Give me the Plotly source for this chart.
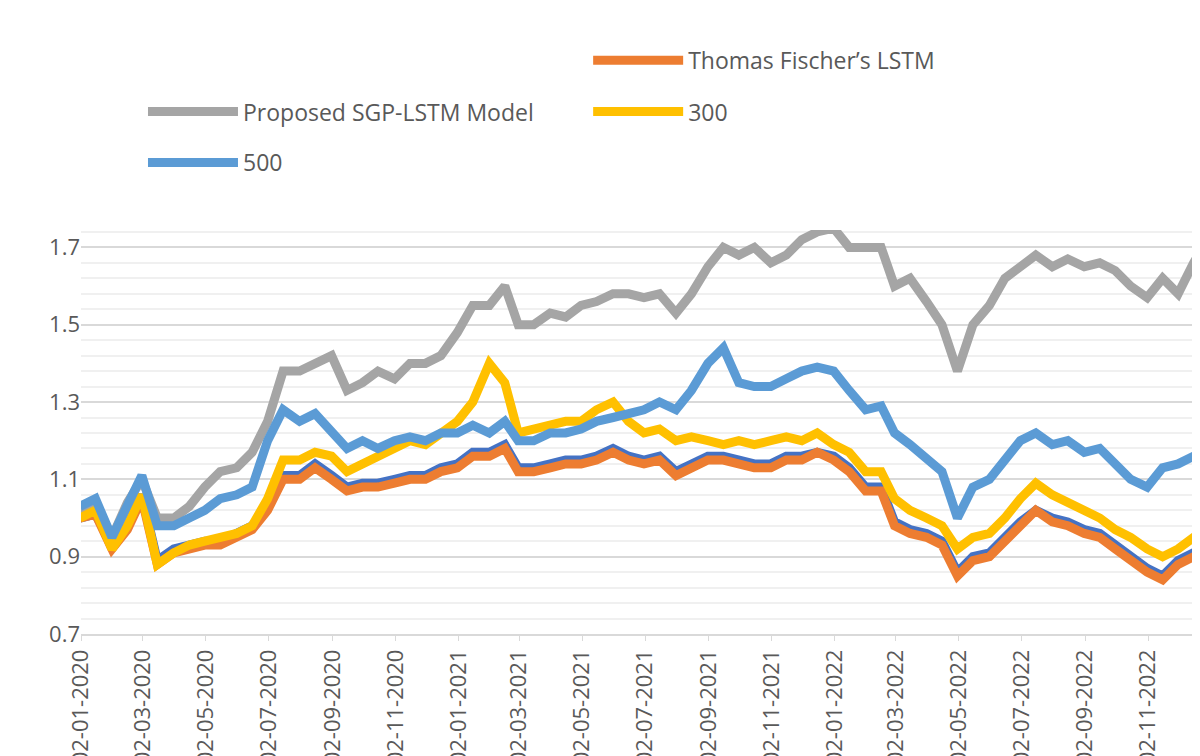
import plotly.graph_objects as go
import pandas as pd

dates = [d.strftime("%Y-%m-%d") for m in pd.date_range("2020-01-01", "2022-12-01", freq="MS") for d in (m, m + pd.Timedelta(days=15))] + ["2022-12-30"]

ghosh = [1.00,1.01,0.93,0.98,1.06,0.89,0.92,0.93,0.94,0.94,0.96,0.98,1.03,1.11,1.11,1.14,1.11,1.08,1.09,1.09,1.10,1.11,1.11,1.13,
         1.14,1.17,1.17,1.19,1.13,1.13,1.14,1.15,1.15,1.16,1.18,1.16,1.15,1.16,1.12,1.14,1.16,1.16,1.15,1.14,1.14,1.16,1.16,1.17,
         1.16,1.13,1.08,1.08,0.99,0.97,0.96,0.94,0.86,0.90,0.91,0.95,0.99,1.02,1.00,0.99,0.97,0.96,0.93,0.90,0.87,0.85,0.89,0.91,0.90,0.88]
fischer = [1.00,1.01,0.92,0.97,1.05,0.88,0.91,0.92,0.93,0.93,0.95,0.97,1.02,1.10,1.10,1.13,1.10,1.07,1.08,1.08,1.09,1.10,1.10,1.12,
           1.13,1.16,1.16,1.18,1.12,1.12,1.13,1.14,1.14,1.15,1.17,1.15,1.14,1.15,1.11,1.13,1.15,1.15,1.14,1.13,1.13,1.15,1.15,1.17,
           1.15,1.12,1.07,1.07,0.98,0.96,0.95,0.93,0.85,0.89,0.90,0.94,0.98,1.02,0.99,0.98,0.96,0.95,0.92,0.89,0.86,0.84,0.88,0.90,0.89,0.87]
sgp = [1.02,1.04,0.95,1.04,1.10,1.00,1.00,1.03,1.08,1.12,1.13,1.17,1.25,1.38,1.38,1.40,1.42,1.33,1.35,1.38,1.36,1.40,1.40,1.42,
       1.48,1.55,1.55,1.60,1.50,1.50,1.53,1.52,1.55,1.56,1.58,1.58,1.57,1.58,1.53,1.58,1.65,1.70,1.68,1.70,1.66,1.68,1.72,1.74,
       1.75,1.70,1.70,1.70,1.60,1.62,1.56,1.50,1.38,1.50,1.55,1.62,1.65,1.68,1.65,1.67,1.65,1.66,1.64,1.60,1.57,1.62,1.58,1.66,1.72,1.67]
s300 = [1.00,1.02,0.92,0.98,1.06,0.88,0.91,0.93,0.94,0.95,0.96,0.98,1.05,1.15,1.15,1.17,1.16,1.12,1.14,1.16,1.18,1.20,1.19,1.22,
        1.25,1.30,1.40,1.35,1.22,1.23,1.24,1.25,1.25,1.28,1.30,1.25,1.22,1.23,1.20,1.21,1.20,1.19,1.20,1.19,1.20,1.21,1.20,1.22,
        1.19,1.17,1.12,1.12,1.05,1.02,1.00,0.98,0.92,0.95,0.96,1.00,1.05,1.09,1.06,1.04,1.02,1.00,0.97,0.95,0.92,0.90,0.92,0.95,0.96,0.94]
s500 = [1.03,1.05,0.95,1.04,1.11,0.98,0.98,1.00,1.02,1.05,1.06,1.08,1.20,1.28,1.25,1.27,1.22,1.18,1.20,1.18,1.20,1.21,1.20,1.22,
        1.22,1.24,1.22,1.25,1.20,1.20,1.22,1.22,1.23,1.25,1.26,1.27,1.28,1.30,1.28,1.33,1.40,1.44,1.35,1.34,1.34,1.36,1.38,1.39,
        1.38,1.33,1.28,1.29,1.22,1.19,1.15,1.12,1.00,1.08,1.10,1.15,1.20,1.22,1.19,1.20,1.17,1.18,1.14,1.10,1.08,1.13,1.14,1.16,1.17,1.11]

names = ["Ghosh’s LSTM", "Thomas Fischer’s LSTM", "Proposed SGP-LSTM Model", "300", "500"]
series = [ghosh, fischer, sgp, s300, s500]
colors = ["#4472C4", "#ED7D31", "#A5A5A5", "#FFC000", "#5B9BD5"]
tickvals = [f"{y}-{m:02d}-02" for y in (2020, 2021, 2022) for m in (1, 3, 5, 7, 9, 11)]
ticktext = [pd.Timestamp(t).strftime("%d-%m-%Y") for t in tickvals]

fig = go.Figure()
for i, (n, s, c) in enumerate(zip(names, series, colors)):
    fig.add_trace(go.Scatter(x=dates, y=s, name=n, mode="lines",
                             legend="legend" if i == 0 else f"legend{i+1}",
                             line=dict(color=c, width=9)))

font = dict(family="Open Sans", size=23, color="#595959")
legpos = [(0.055, 1.42), (0.45, 1.42), (0.055, 1.293), (0.45, 1.293), (0.055, 1.167)]
legs = {}
for i, (x, y) in enumerate(legpos):
    legs["legend" if i == 0 else f"legend{i+1}"] = dict(
        orientation="h", xanchor="left", yanchor="middle", x=x, y=y, itemwidth=90,
        font=font, bgcolor="rgba(0,0,0,0)")
fig.update_layout(
    width=1200, height=756, plot_bgcolor="white", paper_bgcolor="white",
    margin=dict(l=73, r=0, t=222, b=43), font=font, **legs,
    xaxis=dict(type="date", range=["2020-01-02", "2022-12-30"], tickvals=tickvals, ticktext=ticktext,
               tickangle=-90, ticks="outside", ticklen=5, tickcolor="#d9d9d9", showgrid=False,
               showline=True, linecolor="#d9d9d9", linewidth=1.5, tickfont=dict(size=22, color="#595959")),
    yaxis=dict(range=[0.7, 1.745], tick0=0.7, dtick=0.2, tickformat=".1f", showline=False,
               gridcolor="#d9d9d9", gridwidth=2, zeroline=False, tickfont=dict(size=22, color="#595959"),
               minor=dict(dtick=0.04, tick0=0.7, showgrid=True, gridcolor="#f0f0f0", gridwidth=2)),
)
fig.write_html("out.html")
